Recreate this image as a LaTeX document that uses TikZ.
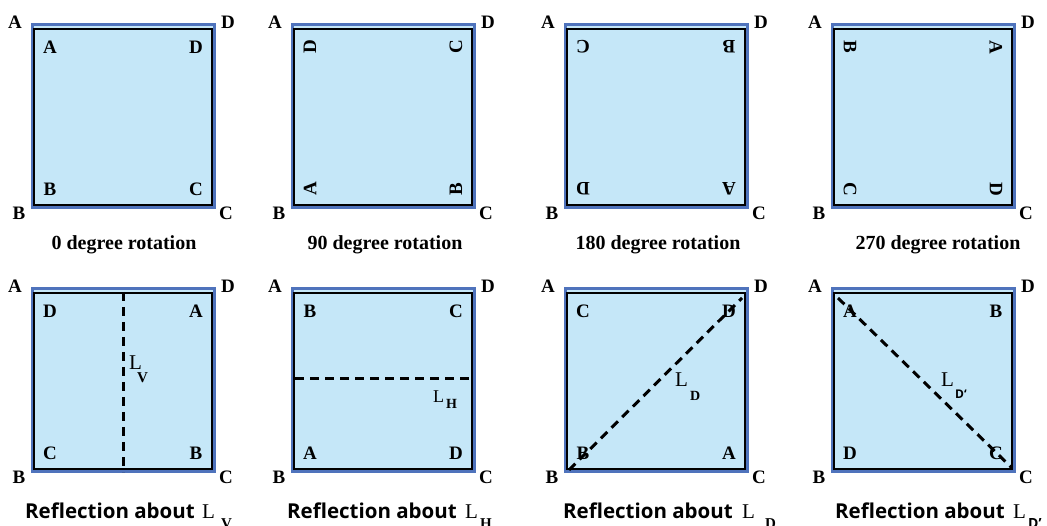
\documentclass[tikz,border=0pt]{standalone}
\usepackage{fontspec}
\setmainfont{Liberation Serif}
\newfontfamily\capsans{Open Sans}
\definecolor{sqfill}{HTML}{C5E7F8}
\definecolor{sqedge}{HTML}{4F73BC}
\tikzset{
  edge/.style={draw=sqedge,line width=3pt,fill=sqfill},
  frame/.style={draw=black,line width=2pt},
  lbl/.style={font=\fontsize{19}{19}\selectfont\bfseries,inner sep=0pt},
  rotcap/.style={font=\fontsize{20}{20}\selectfont\bfseries,inner sep=0pt},
  refl/.style={font=\capsans\fontsize{20.5}{20.5}\selectfont\bfseries,inner sep=0pt,anchor=base west},
  lname/.style={font=\fontsize{21}{21}\selectfont,inner sep=0pt,anchor=base west},
  lsub/.style={font=\fontsize{15}{15}\selectfont\bfseries,inner sep=0pt,anchor=base west},
  axis/.style={line width=3pt,dash pattern=on 9pt off 6pt},
}
\begin{document}
\begin{tikzpicture}[x=1pt,y=-1pt]
\useasboundingbox (0,0) rectangle (1047,526);
% the eight squares with their corner letters
\foreach \n/\x/\y/\r/\cA/\cB/\cC/\cD in {1/31/23/0/A/D/B/C,2/291/23/90/D/C/A/B,3/564/23/180/C/B/D/A,4/831/23/270/B/A/C/D,5/31/287/0/D/A/C/B,6/291/287/0/B/C/A/D,7/564/287/0/C/D/B/A,8/831/287/0/A/B/D/C}{
  \draw[edge] (\x+1.5,\y+1.5) rectangle (\x+183.5,\y+184.5);
  \draw[frame] (\x+3,\y+6) rectangle (\x+181,\y+182);
  \node[lbl] (a\n) at (\x-16,\y-1) {A};
  \node[lbl] (d\n) at (\x+197,\y-1) {D};
  \node[lbl] (b\n) at (\x-12,\y+190) {B};
  \node[lbl] (c\n) at (\x+195,\y+190) {C};
  \node[lbl,rotate=\r] (tl\n) at (\x+19,\y+24) {\cA};
  \node[lbl,rotate=\r] (tr\n) at (\x+165,\y+24) {\cB};
  \node[lbl,rotate=\r] (bl\n) at (\x+19,\y+166) {\cC};
  \node[lbl,rotate=\r] (br\n) at (\x+165,\y+166) {\cD};
}
% rotations
\node[rotcap] (rot0) at (124,245) {0 degree rotation};
\node[rotcap] (rot90) at (385,245) {90 degree rotation};
\node[rotcap] (rot180) at (658,245) {180 degree rotation};
\node[rotcap] (rot270) at (938,245) {270 degree rotation};
% reflection lines
\coordinate (v1) at (123,292);
\coordinate (v2) at (123,472);
\coordinate (h1) at (295,379);
\coordinate (h2) at (473,379);
\coordinate (d1) at (569,470);
\coordinate (d2) at (742,298);
\coordinate (e1) at (838,298);
\coordinate (e2) at (1012,468);
\draw[axis] (v1) -- (v2);
\draw[axis] (h1) -- (h2);
\draw[axis] (d1) -- (d2);
\draw[axis] (e1) -- (e2);
\node[lname] (lv) at (129,370) {L};
\node[lsub] (lvs) at (137,383) {V};
\node[lname,font=\fontsize{18}{18}\selectfont] (lh) at (433,403) {L};
\node[lsub,font=\fontsize{14}{14}\selectfont\bfseries] (lhs) at (446,409) {H};
\node[lname] (ld) at (675,387) {L};
\node[lsub,font=\fontsize{14}{14}\selectfont\bfseries] (lds) at (690,401) {D};
\node[lname] (le) at (941,387) {L};
\node[lsub,font=\capsans\fontsize{12}{12}\selectfont\bfseries] (les) at (955,399) {D‘};
% reflections
\node[refl] (ref1) at (25,518) {Reflection about};
\node[lname] (rl1) at (202,518) {L};
\node[lsub] (rs1) at (221,528) {V};
\node[refl] (ref2) at (287,518) {Reflection about};
\node[lname] (rl2) at (465,518) {L};
\node[lsub] (rs2) at (480,528) {H};
\node[refl] (ref3) at (563,518) {Reflection about};
\node[lname] (rl3) at (742,518) {L};
\node[lsub] (rs3) at (765,528) {D};
\node[refl] (ref4) at (835,518) {Reflection about};
\node[lname] (rl4) at (1013,518) {L};
\node[lsub,font=\capsans\fontsize{14}{14}\selectfont\bfseries] (rs4) at (1028,528) {D’};
\end{tikzpicture}
\end{document}
